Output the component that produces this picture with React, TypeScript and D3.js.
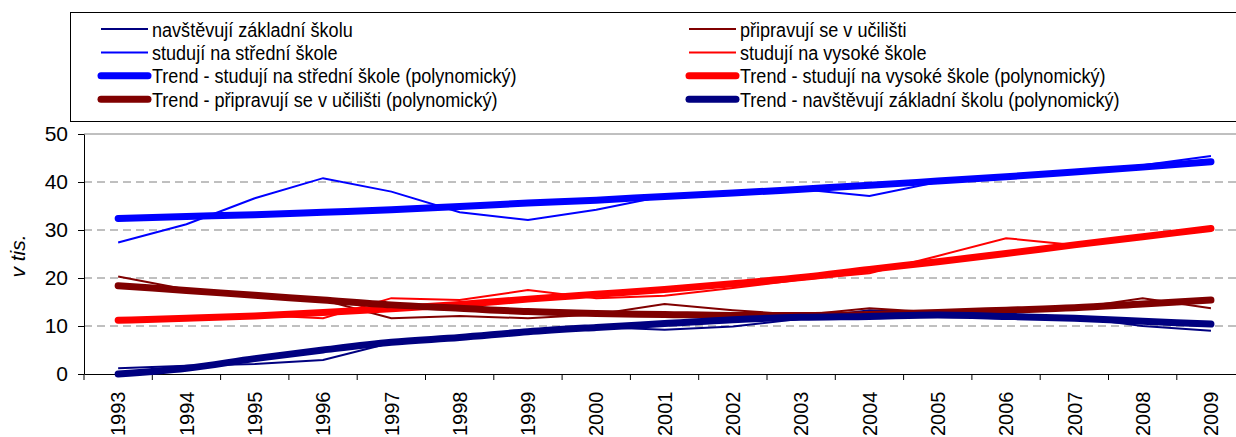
import { useEffect, useRef } from "react";
import * as d3 from "d3";

const YEARS = [
  "1993", "1994", "1995", "1996", "1997", "1998", "1999", "2000", "2001",
  "2002", "2003", "2004", "2005", "2006", "2007", "2008", "2009",
];

// values in thousands
const ZAKLADNI = [1.2, 1.7, 2.1, 2.9, 6.5, 7.5, 8.5, 9.8, 9.2, 9.9, 11.5, 13.3, 12.8, 12.5, 11.8, 10.0, 9.0];
const UCILISTE = [20.3, 17.6, 16.4, 15.4, 11.6, 12.1, 11.6, 12.4, 14.6, 13.3, 12.3, 13.7, 12.8, 13.0, 13.7, 15.8, 13.7];
const STREDNI = [27.4, 31.2, 36.6, 40.8, 38.0, 33.7, 32.1, 34.2, 37.1, 37.5, 38.5, 37.1, 40.0, 41.0, 42.0, 43.5, 45.4];
const VYSOKA = [11.4, 11.6, 12.3, 11.6, 15.8, 15.4, 17.5, 15.8, 16.3, 17.9, 19.7, 21.0, 24.6, 28.3, 26.9, 28.5, 30.0];

// trend lines (polynomial)
const TREND_STREDNI = [32.4, 32.8, 33.2, 33.7, 34.2, 34.9, 35.6, 36.2, 37.0, 37.7, 38.5, 39.3, 40.2, 41.1, 42.1, 43.1, 44.2];
const TREND_VYSOKA = [11.2, 11.6, 12.1, 12.8, 13.6, 14.5, 15.6, 16.6, 17.6, 18.8, 20.1, 21.8, 23.4, 25.1, 26.9, 28.6, 30.3];
const TREND_UCILISTE = [18.4, 17.4, 16.4, 15.4, 14.4, 13.7, 13.0, 12.6, 12.4, 12.2, 12.2, 12.4, 12.8, 13.3, 13.8, 14.6, 15.4];
const TREND_ZAKLADNI = [0.0, 1.2, 3.2, 5.0, 6.6, 7.6, 8.8, 9.7, 10.5, 11.3, 11.8, 12.0, 12.3, 12.0, 11.6, 11.0, 10.4];

const Y_TICKS = [0, 10, 20, 30, 40, 50];

const LEGEND = [
  { label: "navštěvují základní školu", color: "#000080", w: 2, col: 0, row: 0 },
  { label: "studují na střední škole", color: "#0000FF", w: 2, col: 0, row: 1 },
  { label: "Trend - studují na střední škole (polynomický)", color: "#0000FF", w: 7, col: 0, row: 2 },
  { label: "Trend - připravují se v učilišti (polynomický)", color: "#800000", w: 7, col: 0, row: 3 },
  { label: "připravují se v učilišti", color: "#800000", w: 2, col: 1, row: 0 },
  { label: "studují na vysoké škole", color: "#FF0000", w: 2, col: 1, row: 1 },
  { label: "Trend - studují na vysoké škole (polynomický)", color: "#FF0000", w: 7, col: 1, row: 2 },
  { label: "Trend - navštěvují základní školu (polynomický)", color: "#000080", w: 7, col: 1, row: 3 },
];

const W = 1236;
const H = 437;
const FONT = "'Liberation Sans', Arial, sans-serif";

export default function App() {
  const svgRef = useRef<SVGSVGElement | null>(null);

  useEffect(() => {
    const svg = svgRef.current;
    if (!svg) return;
    svg.innerHTML = "";
    const root = d3.select(svg);

    const left = 84;
    const top = 134;
    const bottom = 374;
    const band = 68.3;

    const x = d3.scaleBand().domain(YEARS).range([left, left + band * YEARS.length]).padding(0);
    const y = d3.scaleLinear().domain([0, 50]).range([bottom, top]);
    const cx = (yr: string) => x(yr)! + x.bandwidth() / 2;

    // legend box
    const lg = root.append("g");
    lg.append("rect")
      .attr("x", 70.5).attr("y", 12.5)
      .attr("width", 1300).attr("height", 109)
      .attr("fill", "#fff").attr("stroke", "#000").attr("stroke-width", 1);

    LEGEND.forEach((d) => {
      const lx = d.col === 0 ? 101 : 689;
      const ly = 29 + d.row * 23.4;
      lg.append("line")
        .attr("x1", lx).attr("x2", lx + 47)
        .attr("y1", ly).attr("y2", ly)
        .attr("stroke", d.color).attr("stroke-width", d.w)
        .attr("stroke-linecap", d.w > 2 ? "round" : "butt");
      // legend text in the original is a bit condensed
      lg.append("text")
        .attr("transform", `translate(${lx + 51},${ly + 7.5}) scale(0.86,1)`)
        .attr("font-family", FONT).attr("font-size", 21)
        .attr("fill", "#000")
        .text(d.label);
    });

    // gridlines
    Y_TICKS.filter((t) => t > 0).forEach((t) => {
      root.append("line")
        .attr("x1", left).attr("x2", W)
        .attr("y1", y(t)).attr("y2", y(t))
        .attr("stroke", "#808080").attr("stroke-width", 1)
        .attr("stroke-dasharray", t === 50 ? null : "8,5");
    });

    // y axis
    const yAxis = root.append("g").attr("transform", `translate(${left},0)`)
      .call(d3.axisLeft(y).tickValues(Y_TICKS).tickSize(6).tickSizeOuter(0).tickPadding(10));
    yAxis.select(".domain").attr("stroke", "#000");
    yAxis.selectAll("text").attr("font-family", FONT).attr("font-size", 21).attr("fill", "#000");

    // x axis
    const xAxis = root.append("g").attr("transform", `translate(0,${bottom})`)
      .call(d3.axisBottom(x).tickSize(0).tickSizeOuter(0));
    xAxis.select(".domain").attr("stroke", "#000");
    xAxis.selectAll("text")
      .attr("font-family", FONT).attr("font-size", 20).attr("fill", "#000")
      .attr("transform", "rotate(-90)")
      .attr("text-anchor", "end")
      .attr("x", -17.5).attr("y", 0).attr("dy", "0.36em");
    YEARS.concat(["end"]).forEach((_, i) => {
      const tx = left + i * band;
      root.append("line")
        .attr("x1", tx).attr("x2", tx)
        .attr("y1", bottom).attr("y2", bottom + 6)
        .attr("stroke", "#000");
    });

    // y label
    root.append("text")
      .attr("transform", `translate(25,${(top + bottom) / 2 + 2}) rotate(-90)`)
      .attr("text-anchor", "middle")
      .attr("font-family", FONT).attr("font-size", 21)
      .attr("font-style", "italic")
      .text("v tis.");

    const plot = root.append("g");
    const thin = d3.line<number>().x((_, i) => cx(YEARS[i])).y((v) => y(v));
    const smooth = d3.line<number>().x((_, i) => cx(YEARS[i])).y((v) => y(v)).curve(d3.curveMonotoneX);

    [
      { data: ZAKLADNI, color: "#000080" },
      { data: UCILISTE, color: "#800000" },
      { data: STREDNI, color: "#0000FF" },
      { data: VYSOKA, color: "#FF0000" },
    ].forEach((s) => {
      plot.append("path").attr("d", thin(s.data)!)
        .attr("fill", "none").attr("stroke", s.color).attr("stroke-width", 2);
    });

    [
      { data: TREND_STREDNI, color: "#0000FF" },
      { data: TREND_VYSOKA, color: "#FF0000" },
      { data: TREND_UCILISTE, color: "#800000" },
      { data: TREND_ZAKLADNI, color: "#000080" },
    ].forEach((s) => {
      plot.append("path").attr("d", smooth(s.data)!)
        .attr("fill", "none").attr("stroke", s.color).attr("stroke-width", 7)
        .attr("stroke-linecap", "round").attr("stroke-linejoin", "round");
    });
  }, []);

  return (
    <svg
      ref={svgRef}
      width={W}
      height={H}
      style={{ position: "absolute", left: 0, top: 0, background: "#fff" }}
    />
  );
}
